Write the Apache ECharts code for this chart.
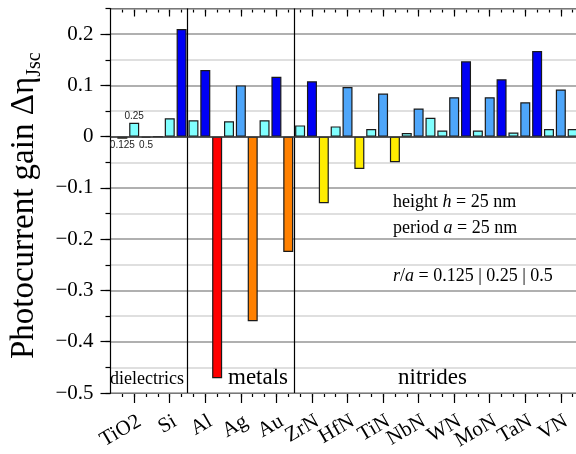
<!DOCTYPE html>
<html>
<head>
<meta charset="utf-8">
<script src="https://cdn.jsdelivr.net/npm/echarts@6/dist/echarts.min.js"></script>
<style>
  html, body { margin: 0; padding: 0; background: #fff; }
  #chart { width: 576px; height: 454px; }
</style>
</head>
<body>
<div id="chart"></div>
<script>
// Materials (one group of three bars each) and the hole radius ratios r/a
const materials = ['TiO2', 'Si', 'Al', 'Ag', 'Au', 'ZrN', 'HfN', 'TiN', 'NbN', 'WN', 'MoN', 'TaN', 'VN'];
const radiusRatios = ['0.125', '0.25', '0.5'];

// Photocurrent gain for each r/a
const gainR0125 = [-0.004, 0.000, 0.032, 0.030, 0.032, 0.022, 0.020, 0.015, 0.007, 0.012, 0.012, 0.008, 0.015];
const gainR025  = [ 0.027, 0.036, 0.130, 0.100, 0.117, 0.108, 0.097, 0.084, 0.055, 0.077, 0.077, 0.067, 0.092];
const gainR05   = [-0.002, 0.210, -0.471, -0.360, -0.225, -0.130, -0.063, -0.050, 0.037, 0.147, 0.112, 0.167, 0.015];

// Material classes and where their blocks end (in bar slots)
const classNames = ['dielectrics', 'metals', 'nitrides'];
const classSeparators = [5.5, 14.5];

const SERIF = 'Liberation Serif';
const BARS_PER_GROUP = radiusRatios.length;
const X_MIN = -1, X_MAX = 38.28;
const LABEL_SHIFT = 0.45;

function gainColor(v) {
  if (v < -0.4) return '#ff0000';
  if (v < -0.15) return '#ff8000';
  if (v < 0) return '#ffec00';
  if (v < 0.045) return '#80ffff';
  if (v < 0.105) return '#4ea6fa';
  return '#0000f5';
}

const groupCenters = materials.map((_, i) => i * BARS_PER_GROUP + 1);
const allSlots = [];
for (let s = 0; s < materials.length * BARS_PER_GROUP; s++) allSlots.push(s);

const barData = [];
materials.forEach((m, i) => {
  [gainR0125, gainR025, gainR05].forEach((arr, k) => {
    const v = arr[i];
    const item = { value: [i * BARS_PER_GROUP + k, v], itemStyle: { color: gainColor(v) } };
    if (i === 0) {
      item.label = {
        show: true,
        position: v > 0 ? 'top' : 'bottom',
        distance: 2,
        formatter: radiusRatios[k],
        fontFamily: 'Liberation Sans',
        fontSize: 10,
        color: '#222'
      };
    }
    barData.push(item);
  });
});

function fmtY(v) {
  const r = Math.round(v * 10) / 10;
  if (r === 0) return '0';
  const s = Math.abs(r).toFixed(1);
  return r < 0 ? '\u2212' + s : s;
}

const chart = echarts.init(document.getElementById('chart'), null, { renderer: 'canvas' });

const axisLine = { show: true, onZero: false, lineStyle: { color: '#000', width: 1.2 } };
const noLine = { show: false, onZero: false };

chart.setOption({
  animation: false,
  backgroundColor: '#fff',
  grid: { left: 108, right: 0, top: 8.5, bottom: 61, containLabel: false },
  xAxis: [
    {
      type: 'value', position: 'bottom', min: X_MIN, max: X_MAX,
      axisLine: axisLine,
      axisTick: { show: true, inside: false, length: 10, customValues: groupCenters, lineStyle: { color: '#000', width: 1.2 } },
      axisLabel: {
        show: true,
        customValues: groupCenters.map(c => c + LABEL_SHIFT),
        formatter: (v) => materials[Math.round((v - LABEL_SHIFT - 1) / BARS_PER_GROUP)],
        rotate: 30, margin: 27,
        fontFamily: SERIF, fontSize: 21, color: '#000'
      },
      splitLine: { show: false }
    },
    {
      type: 'value', position: 'bottom', min: X_MIN, max: X_MAX,
      axisLine: noLine,
      axisTick: { show: true, inside: false, length: 4, customValues: allSlots, lineStyle: { color: '#000', width: 1.2 } },
      axisLabel: { show: false },
      splitLine: { show: false }
    },
    {
      type: 'value', position: 'top', min: X_MIN, max: X_MAX,
      axisLine: axisLine,
      axisTick: { show: true, inside: true, length: 8, customValues: groupCenters, lineStyle: { color: '#000', width: 1.2 } },
      axisLabel: { show: false },
      splitLine: { show: false }
    },
    {
      type: 'value', position: 'top', min: X_MIN, max: X_MAX,
      axisLine: noLine,
      axisTick: { show: true, inside: true, length: 4, customValues: allSlots, lineStyle: { color: '#000', width: 1.2 } },
      axisLabel: { show: false },
      splitLine: { show: false }
    }
  ],
  yAxis: [
    {
      type: 'value', position: 'left', min: -0.5, max: 0.25, interval: 0.1, z: 1,
      axisLine: axisLine,
      axisTick: { show: true, inside: false, length: 10, lineStyle: { color: '#000', width: 1.2 } },
      axisLabel: {
        show: true, showMaxLabel: false, margin: 17, formatter: fmtY,
        fontFamily: SERIF, fontSize: 21, color: '#000'
      },
      splitLine: { show: true, lineStyle: { color: '#a0a0a0', width: 1.5 } },
      name: '{m|Photocurrent gain \u0394\u03b7}{s|Jsc}',
      nameLocation: 'middle', nameRotate: 90, nameGap: 62,
      nameTextStyle: {
        padding: [0, 10, 0, 0],
        rich: {
          m: { fontFamily: SERIF, fontSize: 33, lineHeight: 40, color: '#000' },
          s: { fontFamily: SERIF, fontSize: 20, lineHeight: 20, verticalAlign: 'bottom', color: '#000' }
        }
      }
    },
    {
      type: 'value', position: 'left', min: -0.5, max: 0.25, interval: 0.05, z: 0,
      axisLine: noLine,
      axisTick: { show: true, inside: false, length: 5, lineStyle: { color: '#000', width: 1.2 } },
      axisLabel: { show: false },
      splitLine: { show: true, lineStyle: { color: '#d4d4d4', width: 1.5 } }
    }
  ],
  series: [
    {
      type: 'bar', xAxisIndex: 0, yAxisIndex: 0, z: 3,
      barWidth: 10,
      data: barData,
      itemStyle: { borderColor: '#1a1a1a', borderWidth: 1.2 },
      markLine: {
        silent: true, symbol: 'none', animation: false,
        label: { show: false },
        data: [
          ...classSeparators.map(x => ({ xAxis: x, lineStyle: { color: '#000', width: 1.2, type: 'solid' } })),
          { yAxis: 0, lineStyle: { color: '#3a3a3a', width: 1.5, type: 'solid' } }
        ]
      }
    }
  ],
  graphic: [
    { type: 'text', left: 393, top: 193, style: { text: '{n|height }{i|h}{n| = 25 nm}', rich: {
      n: { fontFamily: SERIF, fontSize: 18, fill: '#000' }, i: { fontFamily: SERIF, fontSize: 18, fontStyle: 'italic', fill: '#000' } } } },
    { type: 'text', left: 393, top: 219, style: { text: '{n|period }{i|a}{n| = 25 nm}', rich: {
      n: { fontFamily: SERIF, fontSize: 18, fill: '#000' }, i: { fontFamily: SERIF, fontSize: 18, fontStyle: 'italic', fill: '#000' } } } },
    { type: 'text', left: 393, top: 267, style: { text: '{i|r}{n|/}{i|a}{n| = 0.125 | 0.25 | 0.5}', rich: {
      n: { fontFamily: SERIF, fontSize: 18, fill: '#000' }, i: { fontFamily: SERIF, fontSize: 18, fontStyle: 'italic', fill: '#000' } } } },
    { type: 'text', left: 110, top: 370, style: { text: classNames[0], fontFamily: SERIF, fontSize: 18, fill: '#000' } },
    { type: 'text', left: 228, top: 366, style: { text: classNames[1], fontFamily: SERIF, fontSize: 23, fill: '#000' } },
    { type: 'text', left: 398, top: 366, style: { text: classNames[2], fontFamily: SERIF, fontSize: 23, fill: '#000' } }
  ]
});
</script>
</body>
</html>
